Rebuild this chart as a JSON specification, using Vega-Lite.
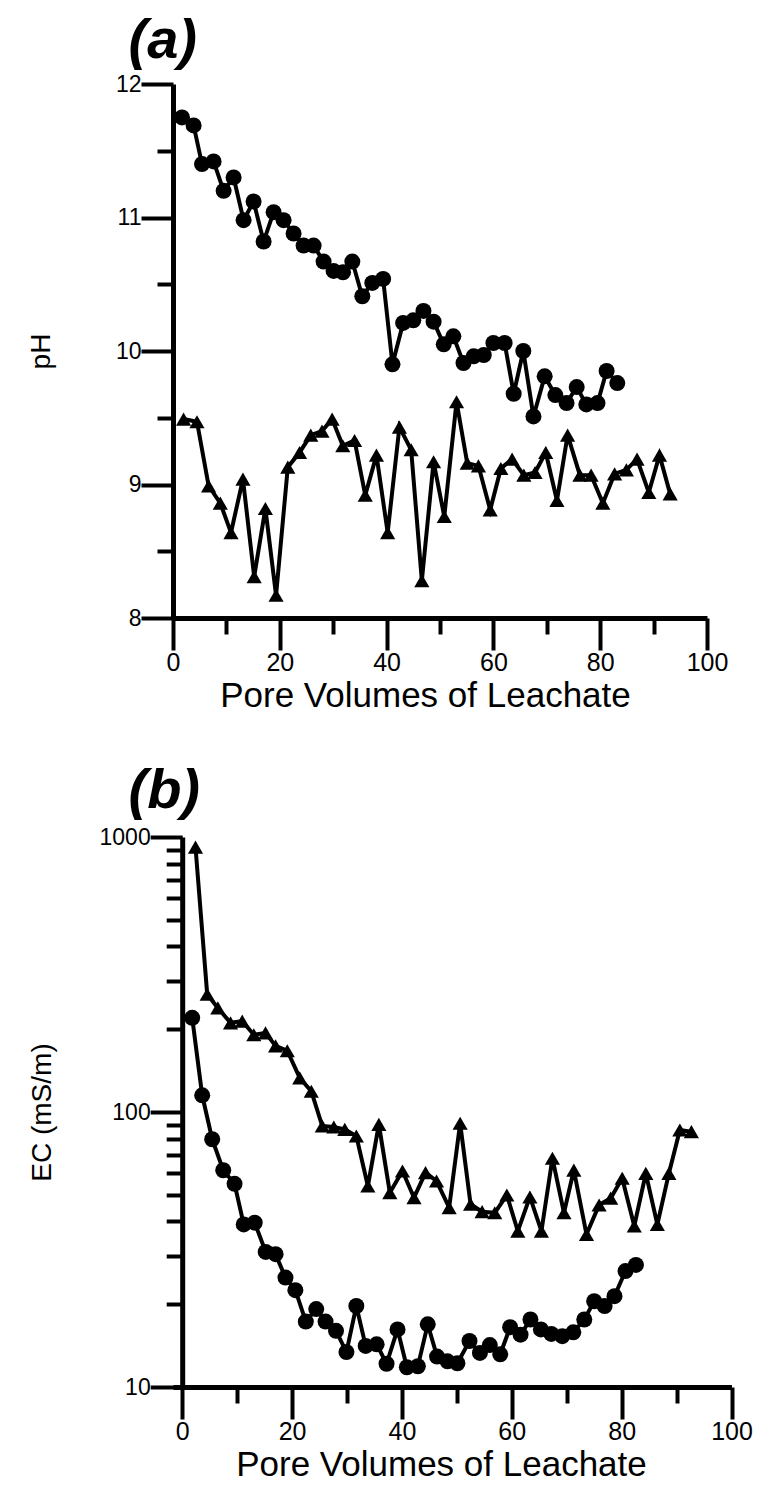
{
  "$schema": "https://vega.github.io/schema/vega-lite/v6.json",
  "padding": {"left": 27, "top": 13, "right": 5, "bottom": 5},
  "background": "white",
  "datasets": {
    "ph": [
      {"pv": 1.69, "value": 11.75, "series": "circle"},
      {"pv": 3.86, "value": 11.69, "series": "circle"},
      {"pv": 5.43, "value": 11.40, "series": "circle"},
      {"pv": 7.60, "value": 11.42, "series": "circle"},
      {"pv": 9.48, "value": 11.20, "series": "circle"},
      {"pv": 11.35, "value": 11.30, "series": "circle"},
      {"pv": 13.22, "value": 10.98, "series": "circle"},
      {"pv": 15.09, "value": 11.12, "series": "circle"},
      {"pv": 16.97, "value": 10.82, "series": "circle"},
      {"pv": 18.84, "value": 11.04, "series": "circle"},
      {"pv": 20.71, "value": 10.98, "series": "circle"},
      {"pv": 22.58, "value": 10.88, "series": "circle"},
      {"pv": 24.46, "value": 10.79, "series": "circle"},
      {"pv": 26.33, "value": 10.79, "series": "circle"},
      {"pv": 28.20, "value": 10.67, "series": "circle"},
      {"pv": 30.07, "value": 10.60, "series": "circle"},
      {"pv": 31.84, "value": 10.59, "series": "circle"},
      {"pv": 33.58, "value": 10.67, "series": "circle"},
      {"pv": 35.45, "value": 10.41, "series": "circle"},
      {"pv": 37.32, "value": 10.51, "series": "circle"},
      {"pv": 39.35, "value": 10.54, "series": "circle"},
      {"pv": 41.1, "value": 9.90, "series": "circle"},
      {"pv": 43.1, "value": 10.21, "series": "circle"},
      {"pv": 45.0, "value": 10.23, "series": "circle"},
      {"pv": 46.9, "value": 10.30, "series": "circle"},
      {"pv": 48.8, "value": 10.22, "series": "circle"},
      {"pv": 50.7, "value": 10.05, "series": "circle"},
      {"pv": 52.5, "value": 10.11, "series": "circle"},
      {"pv": 54.4, "value": 9.91, "series": "circle"},
      {"pv": 56.3, "value": 9.96, "series": "circle"},
      {"pv": 58.2, "value": 9.97, "series": "circle"},
      {"pv": 60.0, "value": 10.06, "series": "circle"},
      {"pv": 62.1, "value": 10.06, "series": "circle"},
      {"pv": 63.8, "value": 9.68, "series": "circle"},
      {"pv": 65.6, "value": 10.0, "series": "circle"},
      {"pv": 67.5, "value": 9.51, "series": "circle"},
      {"pv": 69.6, "value": 9.81, "series": "circle"},
      {"pv": 71.6, "value": 9.67, "series": "circle"},
      {"pv": 73.7, "value": 9.61, "series": "circle"},
      {"pv": 75.6, "value": 9.73, "series": "circle"},
      {"pv": 77.4, "value": 9.60, "series": "circle"},
      {"pv": 79.5, "value": 9.61, "series": "circle"},
      {"pv": 81.2, "value": 9.85, "series": "circle"},
      {"pv": 83.2, "value": 9.76, "series": "circle"},
      {"pv": 1.98, "value": 9.49, "series": "triangle"},
      {"pv": 4.49, "value": 9.47, "series": "triangle"},
      {"pv": 6.67, "value": 8.99, "series": "triangle"},
      {"pv": 8.86, "value": 8.86, "series": "triangle"},
      {"pv": 10.86, "value": 8.64, "series": "triangle"},
      {"pv": 13.1, "value": 9.04, "series": "triangle"},
      {"pv": 15.2, "value": 8.31, "series": "triangle"},
      {"pv": 17.3, "value": 8.82, "series": "triangle"},
      {"pv": 19.3, "value": 8.17, "series": "triangle"},
      {"pv": 21.5, "value": 9.13, "series": "triangle"},
      {"pv": 23.7, "value": 9.24, "series": "triangle"},
      {"pv": 25.8, "value": 9.37, "series": "triangle"},
      {"pv": 27.9, "value": 9.40, "series": "triangle"},
      {"pv": 29.8, "value": 9.49, "series": "triangle"},
      {"pv": 31.8, "value": 9.29, "series": "triangle"},
      {"pv": 34.0, "value": 9.33, "series": "triangle"},
      {"pv": 36.0, "value": 8.92, "series": "triangle"},
      {"pv": 38.1, "value": 9.22, "series": "triangle"},
      {"pv": 40.2, "value": 8.64, "series": "triangle"},
      {"pv": 42.4, "value": 9.43, "series": "triangle"},
      {"pv": 44.6, "value": 9.26, "series": "triangle"},
      {"pv": 46.6, "value": 8.28, "series": "triangle"},
      {"pv": 48.8, "value": 9.17, "series": "triangle"},
      {"pv": 50.8, "value": 8.76, "series": "triangle"},
      {"pv": 53.1, "value": 9.62, "series": "triangle"},
      {"pv": 55.1, "value": 9.16, "series": "triangle"},
      {"pv": 57.2, "value": 9.14, "series": "triangle"},
      {"pv": 59.4, "value": 8.81, "series": "triangle"},
      {"pv": 61.4, "value": 9.12, "series": "triangle"},
      {"pv": 63.5, "value": 9.19, "series": "triangle"},
      {"pv": 65.7, "value": 9.07, "series": "triangle"},
      {"pv": 67.8, "value": 9.09, "series": "triangle"},
      {"pv": 69.8, "value": 9.24, "series": "triangle"},
      {"pv": 71.9, "value": 8.88, "series": "triangle"},
      {"pv": 73.9, "value": 9.37, "series": "triangle"},
      {"pv": 76.2, "value": 9.07, "series": "triangle"},
      {"pv": 78.3, "value": 9.07, "series": "triangle"},
      {"pv": 80.5, "value": 8.86, "series": "triangle"},
      {"pv": 82.7, "value": 9.08, "series": "triangle"},
      {"pv": 84.9, "value": 9.11, "series": "triangle"},
      {"pv": 86.9, "value": 9.19, "series": "triangle"},
      {"pv": 89.1, "value": 8.94, "series": "triangle"},
      {"pv": 91.1, "value": 9.22, "series": "triangle"},
      {"pv": 93.1, "value": 8.93, "series": "triangle"}
    ],
    "ec": [
      {"pv": 1.82, "value": 220, "series": "circle"},
      {"pv": 3.64, "value": 115, "series": "circle"},
      {"pv": 5.46, "value": 79.6, "series": "circle"},
      {"pv": 7.47, "value": 61.4, "series": "circle"},
      {"pv": 9.53, "value": 54.8, "series": "circle"},
      {"pv": 11.2, "value": 39.0, "series": "circle"},
      {"pv": 13.2, "value": 39.6, "series": "circle"},
      {"pv": 15.2, "value": 31.0, "series": "circle"},
      {"pv": 17.0, "value": 30.4, "series": "circle"},
      {"pv": 18.8, "value": 25.0, "series": "circle"},
      {"pv": 20.6, "value": 22.5, "series": "circle"},
      {"pv": 22.5, "value": 17.3, "series": "circle"},
      {"pv": 24.4, "value": 19.2, "series": "circle"},
      {"pv": 26.1, "value": 17.3, "series": "circle"},
      {"pv": 28.0, "value": 16.0, "series": "circle"},
      {"pv": 29.9, "value": 13.4, "series": "circle"},
      {"pv": 31.7, "value": 19.7, "series": "circle"},
      {"pv": 33.4, "value": 14.1, "series": "circle"},
      {"pv": 35.4, "value": 14.3, "series": "circle"},
      {"pv": 37.2, "value": 12.15, "series": "circle"},
      {"pv": 39.2, "value": 16.2, "series": "circle"},
      {"pv": 40.9, "value": 11.8, "series": "circle"},
      {"pv": 42.9, "value": 11.9, "series": "circle"},
      {"pv": 44.7, "value": 16.9, "series": "circle"},
      {"pv": 46.4, "value": 12.9, "series": "circle"},
      {"pv": 48.3, "value": 12.4, "series": "circle"},
      {"pv": 50.1, "value": 12.2, "series": "circle"},
      {"pv": 52.3, "value": 14.7, "series": "circle"},
      {"pv": 54.2, "value": 13.3, "series": "circle"},
      {"pv": 56.0, "value": 14.2, "series": "circle"},
      {"pv": 57.9, "value": 13.15, "series": "circle"},
      {"pv": 59.7, "value": 16.5, "series": "circle"},
      {"pv": 61.6, "value": 15.5, "series": "circle"},
      {"pv": 63.4, "value": 17.6, "series": "circle"},
      {"pv": 65.3, "value": 16.2, "series": "circle"},
      {"pv": 67.2, "value": 15.6, "series": "circle"},
      {"pv": 69.2, "value": 15.3, "series": "circle"},
      {"pv": 71.2, "value": 15.8, "series": "circle"},
      {"pv": 73.2, "value": 17.6, "series": "circle"},
      {"pv": 75.0, "value": 20.5, "series": "circle"},
      {"pv": 76.9, "value": 19.7, "series": "circle"},
      {"pv": 78.7, "value": 21.4, "series": "circle"},
      {"pv": 80.7, "value": 26.4, "series": "circle"},
      {"pv": 82.6, "value": 27.8, "series": "circle"},
      {"pv": 2.42, "value": 919, "series": "triangle"},
      {"pv": 4.55, "value": 268, "series": "triangle"},
      {"pv": 6.49, "value": 239, "series": "triangle"},
      {"pv": 8.8, "value": 211, "series": "triangle"},
      {"pv": 10.93, "value": 214, "series": "triangle"},
      {"pv": 13.04, "value": 191, "series": "triangle"},
      {"pv": 15.17, "value": 194, "series": "triangle"},
      {"pv": 17.0, "value": 174, "series": "triangle"},
      {"pv": 19.13, "value": 167, "series": "triangle"},
      {"pv": 21.4, "value": 133, "series": "triangle"},
      {"pv": 23.5, "value": 119, "series": "triangle"},
      {"pv": 25.5, "value": 88.9, "series": "triangle"},
      {"pv": 27.6, "value": 88.2, "series": "triangle"},
      {"pv": 29.6, "value": 86.5, "series": "triangle"},
      {"pv": 31.7, "value": 81.8, "series": "triangle"},
      {"pv": 33.8, "value": 53.8, "series": "triangle"},
      {"pv": 35.8, "value": 90.2, "series": "triangle"},
      {"pv": 37.8, "value": 50.9, "series": "triangle"},
      {"pv": 40.1, "value": 61.0, "series": "triangle"},
      {"pv": 42.2, "value": 48.8, "series": "triangle"},
      {"pv": 44.3, "value": 60.2, "series": "triangle"},
      {"pv": 46.3, "value": 56.1, "series": "triangle"},
      {"pv": 48.6, "value": 44.9, "series": "triangle"},
      {"pv": 50.6, "value": 91.0, "series": "triangle"},
      {"pv": 52.5, "value": 46.2, "series": "triangle"},
      {"pv": 54.6, "value": 43.4, "series": "triangle"},
      {"pv": 56.9, "value": 43.0, "series": "triangle"},
      {"pv": 59.1, "value": 49.9, "series": "triangle"},
      {"pv": 61.1, "value": 36.9, "series": "triangle"},
      {"pv": 63.3, "value": 49.1, "series": "triangle"},
      {"pv": 65.4, "value": 36.9, "series": "triangle"},
      {"pv": 67.4, "value": 67.9, "series": "triangle"},
      {"pv": 69.5, "value": 43.0, "series": "triangle"},
      {"pv": 71.3, "value": 61.5, "series": "triangle"},
      {"pv": 73.6, "value": 35.9, "series": "triangle"},
      {"pv": 75.9, "value": 45.9, "series": "triangle"},
      {"pv": 78.0, "value": 48.6, "series": "triangle"},
      {"pv": 80.1, "value": 57.4, "series": "triangle"},
      {"pv": 82.3, "value": 38.5, "series": "triangle"},
      {"pv": 84.4, "value": 59.8, "series": "triangle"},
      {"pv": 86.5, "value": 39.0, "series": "triangle"},
      {"pv": 88.6, "value": 59.8, "series": "triangle"},
      {"pv": 90.6, "value": 86.0, "series": "triangle"},
      {"pv": 92.7, "value": 84.8, "series": "triangle"}
    ]
  },
  "vconcat": [
    {
      "width": 534,
      "height": 534,
      "title": {"text": "(a)", "anchor": "start", "frame": "group", "dx": -44.5, "offset": 3, "fontSize": 56, "font": "Liberation Sans", "fontStyle": "italic", "fontWeight": "bold", "color": "black"},
      "data": {"name": "ph"},
      "layer": [
        {
          "mark": {"type": "line", "color": "black", "strokeWidth": 4},
          "encoding": {
            "x": {"field": "pv", "type": "quantitative", "scale": {"domain": [0, 100], "nice": false, "zero": false},
              "axis": {"title": "Pore Volumes of Leachate", "values": [0, 20, 40, 60, 80, 100], "format": "d",
                "tickSize": 32, "labelPadding": 0, "titlePadding": 3, "titleX": 252}},
            "y": {"field": "value", "type": "quantitative", "scale": {"domain": [8, 12], "nice": false, "zero": false},
              "axis": {"title": "pH", "values": [8, 9, 10, 11, 12], "format": "d",
                "tickSize": 32, "labelPadding": 0, "titlePadding": 60, "labelFontSize": 23}},
            "detail": {"field": "series"}
          }
        },
        {
          "mark": {"type": "point", "filled": true, "color": "black", "opacity": 1},
          "encoding": {
            "x": {"field": "pv", "type": "quantitative",
              "axis": {"orient": "bottom", "title": null, "values": [10, 30, 50, 70, 90], "labels": false, "domain": false, "tickSize": 16}},
            "y": {"field": "value", "type": "quantitative",
              "axis": {"orient": "left", "title": null, "values": [8.5, 9.5, 10.5, 11.5], "labels": false, "domain": false, "tickSize": 16}},
            "shape": {"field": "series", "type": "nominal", "scale": {"domain": ["circle", "triangle"], "range": ["circle", "triangle-up"]}, "legend": null},
            "size": {"field": "series", "type": "nominal", "scale": {"domain": ["circle", "triangle"], "range": [256, 230]}, "legend": null}
          }
        }
      ],
      "resolve": {"axis": {"x": "independent", "y": "independent"}}
    },
    {
      "width": 558.5,
      "height": 550,
      "title": {"text": "(b)", "anchor": "start", "frame": "group", "dx": -44.5, "offset": 6, "fontSize": 56, "font": "Liberation Sans", "fontStyle": "italic", "fontWeight": "bold", "color": "black"},
      "data": {"name": "ec"},
      "layer": [
        {
          "mark": {"type": "line", "color": "black", "strokeWidth": 4},
          "encoding": {
            "x": {"field": "pv", "type": "quantitative", "scale": {"domain": [-1.675, 100], "nice": false, "zero": false},
              "axis": {"title": "Pore Volumes of Leachate", "values": [0, 20, 40, 60, 80, 100], "format": "d",
                "tickSize": 32, "labelPadding": 0, "titlePadding": 3, "titleX": 268}},
            "y": {"field": "value", "type": "quantitative", "scale": {"type": "log", "domain": [10, 1000], "nice": false},
              "axis": {"title": "EC (mS/m)", "values": [10, 100, 1000], "format": "d", "offset": -9.2,
                "tickSize": 32, "labelPadding": 0, "titlePadding": 43, "labelFontSize": 23}},
            "detail": {"field": "series"}
          }
        },
        {
          "mark": {"type": "point", "filled": true, "color": "black", "opacity": 1},
          "encoding": {
            "x": {"field": "pv", "type": "quantitative",
              "axis": {"orient": "bottom", "title": null, "values": [10, 30, 50, 70, 90], "labels": false, "domain": false, "tickSize": 16}},
            "y": {"field": "value", "type": "quantitative",
              "axis": {"orient": "left", "title": null, "offset": -9.2, "values": [20, 30, 40, 50, 60, 70, 80, 90, 200, 300, 400, 500, 600, 700, 800, 900], "labels": false, "domain": false, "tickSize": 16}},
            "shape": {"field": "series", "type": "nominal", "scale": {"domain": ["circle", "triangle"], "range": ["circle", "triangle-up"]}, "legend": null},
            "size": {"field": "series", "type": "nominal", "scale": {"domain": ["circle", "triangle"], "range": [256, 230]}, "legend": null}
          }
        }
      ],
      "resolve": {"axis": {"x": "independent", "y": "independent"}}
    }
  ],
  "spacing": 50,
  "resolve": {"scale": {"x": "independent", "y": "independent", "shape": "independent", "size": "independent"}},
  "config": {
    "view": {"stroke": null},
    "font": "Liberation Sans",
    "axis": {
      "domainColor": "black", "domainWidth": 5, "tickColor": "black", "tickWidth": 4,
      "labelColor": "black", "titleColor": "black", "labelFont": "Liberation Sans", "titleFont": "Liberation Sans",
      "labelFontSize": 25, "titleFontSize": 35, "titleFontWeight": "normal", "grid": false,
      "labelFlush": false, "labelOverlap": false
    },
    "axisLeft": {"titleFontSize": 28}
  }
}
